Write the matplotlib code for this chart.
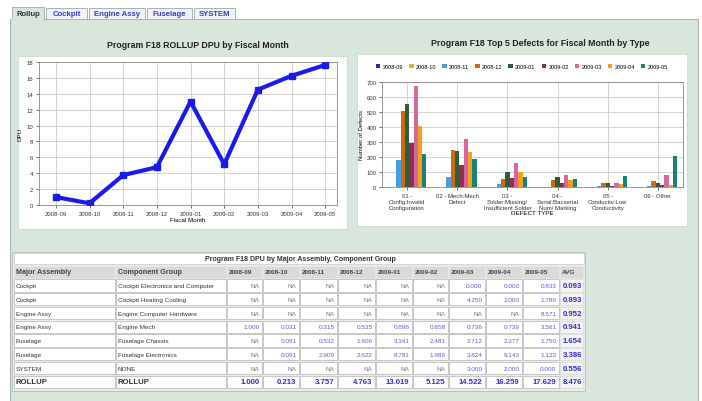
import matplotlib
matplotlib.use("Agg")
import matplotlib.pyplot as plt
from matplotlib.patches import Rectangle
import numpy as np

plt.rcParams['font.family'] = ['Liberation Sans', 'DejaVu Sans']

# ---------------- data ----------------
months = ["2008-09", "2008-10", "2008-11", "2008-12", "2009-01",
          "2009-02", "2009-03", "2009-04", "2009-05"]
rollup_dpu = [1.000, 0.213, 3.757, 4.763, 13.019, 5.125, 14.522, 16.259, 17.629]

defect_types = ["01 -\nConfig:Invalid\nConfiguration", "02 - Mech:Mech\nDefect",
                "03 -\nSolder:Missing/\nInsufficient Solder", "04 -\nSerial:Bacserial\nNum/ Marking",
                "05 -\nConductiv:Low\nConductivity", "06 - Other"]
defects_2008_09 = [0, 0, 0, 0, 0, 0]
defects_2008_10 = [0, 3, 0, 0, 0, 0]
defects_2008_11 = [178, 70, 18, 0, 5, 8]
defects_2008_12 = [505, 250, 55, 45, 30, 37]
defects_2009_01 = [555, 240, 100, 65, 25, 28]
defects_2009_02 = [295, 150, 57, 25, 8, 15]
defects_2009_03 = [672, 318, 160, 80, 28, 80]
defects_2009_04 = [410, 232, 100, 50, 20, 12]
defects_2009_05 = [222, 185, 65, 55, 72, 210]
defect_series = [defects_2008_09, defects_2008_10, defects_2008_11, defects_2008_12,
                 defects_2009_01, defects_2009_02, defects_2009_03, defects_2009_04,
                 defects_2009_05]
bar_colors = ["#1c2fa8", "#e2ad33", "#4a9be8", "#c96a16", "#2f5e36",
              "#8e2f52", "#d6679e", "#f7a01e", "#1b7f7a"]

tabs = ["Rollup", "Cockpit", "Engine Assy", "Fuselage", "SYSTEM"]

major_assembly = ["Cockpit", "Cockpit", "Engine Assy", "Engine Assy", "Fuselage",
                  "Fuselage", "SYSTEM", "ROLLUP"]
component_group = ["Cockpit Electronics and Computer", "Cockpit Heating Cooling",
                   "Engine Computer Hardware", "Engine Mech", "Fuselage Chassis",
                   "Fuselage Electronics", "NONE", "ROLLUP"]
NA = None
dpu_table = [
    [NA, NA, NA, NA, NA, NA, 0.000, 0.000, 0.833],
    [NA, NA, NA, NA, NA, NA, 4.250, 2.000, 1.789],
    [NA, NA, NA, NA, NA, NA, NA, NA, 8.571],
    [1.000, 0.031, 0.315, 0.535, 0.896, 0.658, 0.736, 0.739, 3.561],
    [NA, 0.091, 0.532, 1.606, 3.341, 2.481, 2.712, 2.377, 1.750],
    [NA, 0.091, 2.909, 2.622, 8.781, 1.986, 3.824, 9.143, 1.123],
    [NA, NA, NA, NA, NA, NA, 3.000, 2.000, 0.000],
    [1.000, 0.213, 3.757, 4.763, 13.019, 5.125, 14.522, 16.259, 17.629],
]
dpu_avg = [0.093, 0.893, 0.952, 0.941, 1.654, 3.386, 0.556, 8.476]

# ---------------- figure ----------------
W, H = 702, 402
fig = plt.figure(figsize=(W / 100, H / 100), dpi=100)
fig.patch.set_facecolor("white")

def frac(x0, y0, x1, y1):
    return [x0 / W, 1 - y1 / H, (x1 - x0) / W, (y1 - y0) / H]

bg = fig.add_axes([0, 0, 1, 1])
bg.set_xlim(0, W)
bg.set_ylim(H, 0)
bg.axis("off")

panel = "#d9e6dc"
bg.add_patch(Rectangle((10, 20), 688, 390, facecolor=panel, edgecolor="#a9b8ad", lw=0.8))

# tabs
tab_x = [(12, 44), (46, 87), (89, 145), (147, 192), (194, 235)]
for i, (name, (a, b)) in enumerate(zip(tabs, tab_x)):
    active = i == 0
    bg.add_patch(Rectangle((a, 8 if active else 9), b - a, 13 if active else 11,
                           facecolor=panel if active else "#f1f3f6",
                           edgecolor="#a9b0bb", lw=0.7, zorder=3))
    bg.text((a + b) / 2, 15, name, ha="center", va="center", fontsize=5.6,
            fontweight="bold", color="#333333" if active else "#3a3acc", zorder=4)
bg.add_patch(Rectangle((12, 19), 32, 2.5, facecolor=panel, edgecolor="none", zorder=5))

# chart boxes
bg.add_patch(Rectangle((18, 57), 329, 173, facecolor="white", edgecolor="#d0d8d2", lw=0.6))
bg.add_patch(Rectangle((357, 55), 330, 172, facecolor="white", edgecolor="#d0d8d2", lw=0.6))
bg.text(198, 45, "Program F18 ROLLUP DPU by Fiscal Month", ha="center", va="center",
        fontsize=6.3, fontweight="bold", color="#222222")
bg.text(540, 44, "Program F18 Top 5 Defects for Fiscal Month by Type", ha="center",
        va="center", fontsize=6.3, fontweight="bold", color="#222222")

# ---------------- line chart ----------------
ax1 = fig.add_axes(frac(39, 63, 337, 206))
x = np.arange(len(months))
ax1.plot(x, rollup_dpu, color="#1a1aee", lw=3.0, marker="s", ms=4.0, zorder=3)
ax1.set_xlim(-0.5, 8.35)
ax1.set_ylim(0, 18)
ax1.set_yticks(np.arange(0, 19, 2))
ax1.set_xticks(x)
ax1.set_xticklabels(months)
ax1.grid(True, color="#cccccc", lw=0.6)
ax1.set_axisbelow(True)
ax1.tick_params(labelsize=4.3, length=2, width=0.5, colors="#333333", pad=2)
for s in ax1.spines.values():
    s.set_color("#888888")
    s.set_linewidth(0.6)
ax1.set_ylabel("DPU", fontsize=4.5, labelpad=3)
ax1.set_xlabel("Fiscal Month", fontsize=4.5, labelpad=1)

# ---------------- bar chart ----------------
ax2 = fig.add_axes(frac(382, 83, 683, 188))
xc = np.arange(len(defect_types))
nser = len(defect_series)
bw = 0.086
for i, (vals, c) in enumerate(zip(defect_series, bar_colors)):
    ax2.bar(xc + (i - (nser - 1) / 2) * bw, vals, width=bw, color=c, label=months[i],
            zorder=3, lw=0)
ax2.set_xlim(-0.5, 5.5)
ax2.set_ylim(0, 700)
ax2.set_yticks(np.arange(0, 701, 100))
ax2.set_xticks(xc)
ax2.set_xticklabels(defect_types, linespacing=1.3)
ax2.grid(True, color="#cccccc", lw=0.6)
ax2.set_axisbelow(True)
ax2.tick_params(labelsize=4.3, length=2, width=0.5, colors="#333333", pad=2)
for s in ax2.spines.values():
    s.set_color("#888888")
    s.set_linewidth(0.6)
ax2.set_ylabel("Number of Defects", fontsize=4.3, labelpad=2)
ax2.set_xlabel("DEFECT TYPE", fontsize=4.5, labelpad=0)
leg = ax2.legend(loc="center", bbox_to_anchor=(0.465, 1.15), ncol=9, fontsize=4.0,
                 frameon=False, handlelength=0.8, handleheight=0.8, handletextpad=0.4,
                 columnspacing=1.1, borderaxespad=0)

# ---------------- table ----------------
cols = [13, 115, 226, 262, 299, 337, 375, 412, 448, 485, 522, 559, 583]
tbl_top, title_h, pitch = 254, 12, 13.75
hdr_top = tbl_top + title_h
n_rows = len(major_assembly)
tbl_bottom = hdr_top + pitch * (n_rows + 1) + 1
bg.add_patch(Rectangle((cols[0] - 1, tbl_top - 1), cols[-1] - cols[0] + 3,
                       tbl_bottom - tbl_top + 2, facecolor="#ebebeb",
                       edgecolor="#b8bcb9", lw=0.6))
bg.add_patch(Rectangle((cols[0] + 0.5, tbl_top), cols[-1] - cols[0], title_h - 1,
                       facecolor="white", edgecolor="#c8c8c8", lw=0.5))
bg.text(300, tbl_top + title_h / 2 - 0.5, "Program F18 DPU by Major Assembly, Component Group",
        ha="center", va="center", fontsize=5.0, fontweight="bold", color="#333333")

headers = ["Major Assembly", "Component Group"] + months + ["AVG"]
for j, h in enumerate(headers):
    a, b = cols[j], cols[j + 1]
    bg.add_patch(Rectangle((a + 1, hdr_top + 0.5), b - a - 1.5, pitch - 1.5,
                           facecolor="#dadada", edgecolor="#e8e8e8", lw=0.4))
    bg.text(a + 2.5, hdr_top + pitch / 2, h, ha="left", va="center",
            fontsize=5.2 if j < 2 else 4.6, fontweight="bold", color="#444444")

for r in range(n_rows):
    top = hdr_top + pitch * (r + 1)
    yc = top + pitch / 2
    rollup = r == n_rows - 1
    cells = [major_assembly[r], component_group[r]] + dpu_table[r] + [dpu_avg[r]]
    for j, v in enumerate(cells):
        a, b = cols[j], cols[j + 1]
        if j != 11:
            bg.add_patch(Rectangle((a + 1, top + 0.5), b - a - 1.5, pitch - 1.5,
                                   facecolor="white", edgecolor="#b5b5b5", lw=0.5))
        else:
            bg.add_patch(Rectangle((a + 1, top + 0.5), b - a - 1.5, pitch - 1.5,
                                   facecolor="#f3f3f3", edgecolor="#d5d5d5", lw=0.4))
        if j < 2:
            bg.text(a + 2.5, yc, v, ha="left", va="center",
                    fontsize=5.6 if rollup else 4.6,
                    fontweight="bold" if rollup else "normal", color="#333333")
        elif j == 11:
            bg.text(b - 1, yc, f"{v:.3f}", ha="right", va="center", fontsize=5.6,
                    fontweight="bold", color="#2f2fcc")
        else:
            if v is None:
                bg.text(b - 2.5, yc, "NA", ha="right", va="center", fontsize=4.6,
                        color="#777777")
            else:
                bg.text(b - 2.5, yc, f"{v:.3f}", ha="right", va="center",
                        fontsize=5.6 if rollup else 4.6,
                        fontweight="bold" if rollup else "normal",
                        color="#2f2fcc" if rollup else "#5c5cd8")

fig.savefig("out.png", dpi=100, facecolor=fig.get_facecolor())
